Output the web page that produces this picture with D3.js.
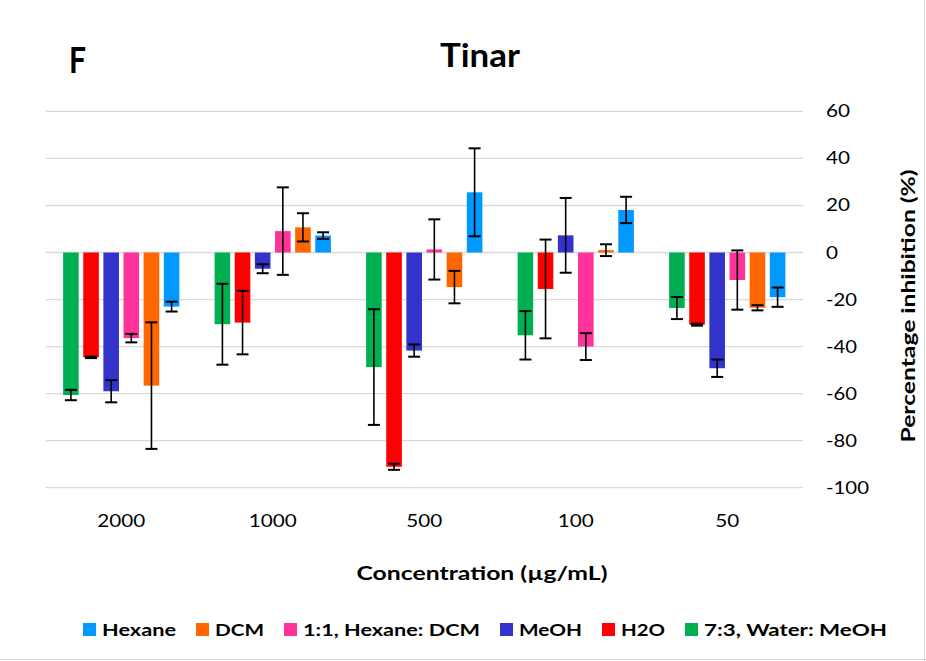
<!DOCTYPE html>
<html>
<head>
<meta charset="utf-8">
<script src="https://cdn.jsdelivr.net/npm/d3@7/dist/d3.min.js"></script>
<style>
  html, body { margin: 0; padding: 0; background: #fff; }
  svg { display: block; font-family: Lato, "Open Sans", sans-serif; }
</style>
</head>
<body>
<svg id="chart" width="926" height="661"></svg>
<script>
// ---- data ----
const categories = ["2000", "1000", "500", "100", "50"];
const seriesNames = ["7:3, Water: MeOH", "H2O", "MeOH", "1:1, Hexane: DCM", "DCM", "Hexane"];
const seriesColors = ["#00B050", "#FF0000", "#3333CC", "#FF3399", "#FF6600", "#0099FF"];

const water73 = [-60.6, -30.5, -48.7, -35.2, -23.6];
const water73Err = [2.2, 17.2, 24.6, 10.3, 4.7];
const h2o = [-44.6, -29.8, -91.1, -15.5, -30.7];
const h2oErr = [0.3, 13.5, 1.3, 21.0, 0.4];
const meoh = [-59.0, -6.9, -41.7, 7.3, -49.2];
const meohErr = [4.7, 1.9, 2.6, 15.9, 3.7];
const mix11 = [-36.4, 9.1, 1.3, -40.0, -11.7];
const mix11Err = [1.8, 18.6, 12.8, 5.7, 12.6];
const dcm = [-56.6, 10.7, -14.7, 1.0, -23.5];
const dcmErr = [26.9, 6.0, 6.9, 2.5, 1.1];
const hexane = [-23.0, 7.2, 25.6, 18.1, -19.0];
const hexaneErr = [2.1, 1.4, 18.7, 5.6, 4.1];

const yTicks = [60, 40, 20, 0, -20, -40, -60, -80, -100];

const seriesValues = [water73, h2o, meoh, mix11, dcm, hexane];
const seriesErrors = [water73Err, h2oErr, meohErr, mix11Err, dcmErr, hexaneErr];

// ---- layout ----
const svg = d3.select("#chart");
const plotLeft = 45.5, plotRight = 803;
const y = d3.scaleLinear().domain([-100, 60]).range([487.7, 111.4]);
const x0 = d3.scaleBand().domain(categories).range([plotLeft, plotRight]).padding(0);
const x1 = d3.scaleBand().domain(seriesNames).range([0, x0.bandwidth()])
  .paddingInner(0.225).paddingOuter(0.874);

// chart-area border (right & bottom)
svg.append("line").attr("x1", 924.5).attr("x2", 924.5).attr("y1", 0).attr("y2", 661)
  .attr("stroke", "#d9d9d9").attr("stroke-width", 1);
svg.append("line").attr("x1", 0).attr("x2", 926).attr("y1", 659.5).attr("y2", 659.5)
  .attr("stroke", "#d9d9d9").attr("stroke-width", 1);

// gridlines
svg.append("g").selectAll("line").data(yTicks).join("line")
  .attr("x1", plotLeft).attr("x2", plotRight)
  .attr("y1", d => y(d)).attr("y2", d => y(d))
  .attr("stroke", "#d9d9d9").attr("stroke-width", 1.3);

// y tick labels (right side)
svg.append("g").selectAll("text").data(yTicks).join("text")
  .attr("x", 826).attr("y", d => y(d) + 6)
  .attr("font-size", 16.5).attr("fill", "#000")
  .attr("textLength", d => { const s = String(d); let w = 0; for (const c of s) w += (c === "-" ? 7 : 12); return w; })
  .attr("lengthAdjust", "spacingAndGlyphs")
  .text(d => d);

// bars
const flat = [];
seriesNames.forEach((s, si) => {
  categories.forEach((c, ci) => {
    flat.push({ series: s, si, cat: c, v: seriesValues[si][ci], e: seriesErrors[si][ci] });
  });
});

svg.append("g").selectAll("rect").data(flat).join("rect")
  .attr("x", d => x0(d.cat) + x1(d.series))
  .attr("width", x1.bandwidth())
  .attr("y", d => Math.min(y(d.v), y(0)))
  .attr("height", d => Math.abs(y(d.v) - y(0)))
  .attr("fill", d => seriesColors[d.si]);

// error bars
const eb = svg.append("g").attr("stroke", "#000").attr("stroke-width", 1.6);
flat.forEach(d => {
  const cx = x0(d.cat) + x1(d.series) + x1.bandwidth() / 2;
  const yt = y(d.v + d.e), yb = y(d.v - d.e);
  eb.append("line").attr("x1", cx).attr("x2", cx).attr("y1", yt).attr("y2", yb);
  eb.append("line").attr("x1", cx - 6).attr("x2", cx + 6).attr("y1", yt).attr("y2", yt).attr("stroke-width", 2);
  eb.append("line").attr("x1", cx - 6).attr("x2", cx + 6).attr("y1", yb).attr("y2", yb).attr("stroke-width", 2);
});

// x tick labels
svg.append("g").selectAll("text").data(categories).join("text")
  .attr("x", d => x0(d) + x0.bandwidth() / 2).attr("y", 527)
  .attr("text-anchor", "middle").attr("font-size", 16.5)
  .attr("textLength", d => d.length * 12).attr("lengthAdjust", "spacingAndGlyphs")
  .text(d => d);

// titles
svg.append("text").attr("x", 69).attr("y", 72.5).attr("font-size", 36).attr("font-weight", 700)
  .attr("textLength", 17).attr("lengthAdjust", "spacingAndGlyphs").text("F");
svg.append("text").attr("x", 440).attr("y", 67.3).attr("font-size", 32).attr("font-weight", 700)
  .attr("textLength", 80).attr("lengthAdjust", "spacingAndGlyphs").text("Tinar");

svg.append("text").attr("x", 482).attr("y", 580).attr("text-anchor", "middle")
  .attr("font-size", 19.5).attr("font-weight", 700)
  .attr("textLength", 251).attr("lengthAdjust", "spacingAndGlyphs")
  .text("Concentration (µg/mL)");

svg.append("text").attr("transform", "translate(915,306) rotate(-90)")
  .attr("text-anchor", "middle").attr("font-size", 19.5).attr("font-weight", 700)
  .attr("textLength", 273).attr("lengthAdjust", "spacingAndGlyphs")
  .text("Percentage inhibition (%)");

// legend (reverse order of series)
const legendOrder = seriesNames.map((s, i) => i).reverse();
const legendWidths = { "Hexane": 74, "DCM": 49, "1:1, Hexane: DCM": 177, "MeOH": 63, "H2O": 44, "7:3, Water: MeOH": 183 };
let lx = 83;
const lg = svg.append("g");
legendOrder.forEach(i => {
  const name = seriesNames[i];
  lg.append("rect").attr("x", lx).attr("y", 623).attr("width", 13).attr("height", 13).attr("fill", seriesColors[i]);
  lg.append("text").attr("x", lx + 19).attr("y", 636).attr("font-size", 17).attr("font-weight", 700)
    .attr("textLength", legendWidths[name]).attr("lengthAdjust", "spacingAndGlyphs").text(name);
  lx += 19 + legendWidths[name] + 20;
});
</script>
</body>
</html>
